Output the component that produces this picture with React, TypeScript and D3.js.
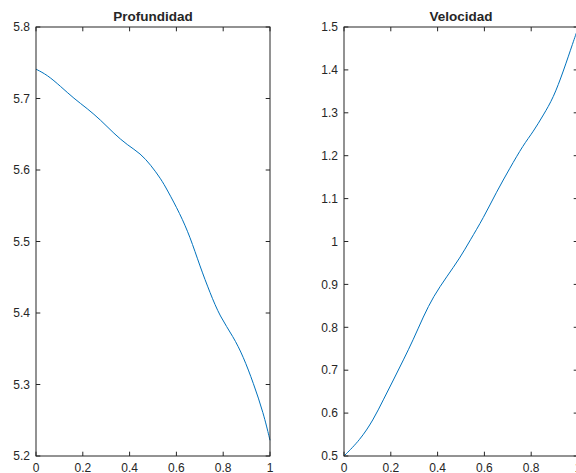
import React, { useEffect, useRef } from "react";
import * as d3 from "d3";

// Depth profile (Profundidad) sampled along the normalised distance
const depthX = [0, 0.048, 0.105, 0.162, 0.219, 0.276, 0.333, 0.39, 0.447, 0.49, 0.533, 0.561, 0.615, 0.658, 0.701, 0.744, 0.786, 0.843, 0.886, 0.929, 0.972, 1];
const depthY = [5.741, 5.733, 5.717, 5.7, 5.686, 5.67, 5.651, 5.635, 5.623, 5.607, 5.588, 5.572, 5.539, 5.507, 5.465, 5.428, 5.395, 5.367, 5.339, 5.302, 5.26, 5.222];

// Velocity profile (Velocidad)
const velX = [0, 0.068, 0.125, 0.168, 0.211, 0.254, 0.296, 0.339, 0.382, 0.439, 0.496, 0.538, 0.595, 0.652, 0.709, 0.766, 0.809, 0.852, 0.894, 0.937, 0.98, 1];
const velY = [0.5, 0.537, 0.584, 0.631, 0.677, 0.724, 0.771, 0.825, 0.872, 0.918, 0.962, 1.002, 1.054, 1.116, 1.171, 1.225, 1.256, 1.295, 1.334, 1.396, 1.466, 1.497];

const xTicks = [0, 0.2, 0.4, 0.6, 0.8, 1];
const depthTicks = [5.2, 5.3, 5.4, 5.5, 5.6, 5.7, 5.8];
const velTicks = [0.5, 0.6, 0.7, 0.8, 0.9, 1, 1.1, 1.2, 1.3, 1.4, 1.5];

const W = 576;
const H = 473;
const AX = "#262626";
const LINE = "#0072BD";
const FONT = "'Liberation Sans', Arial, Helvetica, sans-serif";

type Panel = {
  title: string;
  xs: number[];
  ys: number[];
  yDomain: [number, number];
  yTicks: number[];
  left: number;
};

const panels: Panel[] = [
  { title: "Profundidad", xs: depthX, ys: depthY, yDomain: [5.2, 5.8], yTicks: depthTicks, left: 36 },
  { title: "Velocidad", xs: velX, ys: velY, yDomain: [0.5, 1.5], yTicks: velTicks, left: 344 },
];

const plotW = 234;
const top = 27;
const bottom = 456;
const tickLen = 4.3;

export default function App() {
  const ref = useRef<SVGSVGElement | null>(null);

  useEffect(() => {
    document.body.style.margin = "0";
    const svg = d3.select(ref.current);
    svg.selectAll("*").remove();
    svg.append("rect").attr("width", W).attr("height", H).attr("fill", "#fff");

    panels.forEach((p) => {
      const x = d3.scaleLinear().domain([0, 1]).range([p.left, p.left + plotW]);
      const y = d3.scaleLinear().domain(p.yDomain).range([bottom, top]);
      const g = svg.append("g");

      // data curve (B-spline keeps the profile smooth)
      const line = d3
        .line<number>()
        .x((_, i) => x(p.xs[i]))
        .y((d) => y(d))
        .curve(d3.curveBasis);
      g.append("path")
        .attr("d", line(p.ys))
        .attr("fill", "none")
        .attr("stroke", LINE)
        .attr("stroke-width", 1);

      // box
      g.append("rect")
        .attr("x", x(0))
        .attr("y", top)
        .attr("width", plotW)
        .attr("height", bottom - top)
        .attr("fill", "none")
        .attr("stroke", AX)
        .attr("stroke-width", 1);

      // x ticks (bottom and top, inward)
      xTicks.forEach((t) => {
        const px = x(t);
        g.append("line").attr("x1", px).attr("x2", px).attr("y1", bottom).attr("y2", bottom - tickLen).attr("stroke", AX);
        g.append("line").attr("x1", px).attr("x2", px).attr("y1", top).attr("y2", top + tickLen).attr("stroke", AX);
        g.append("text")
          .attr("x", px)
          .attr("y", bottom + 16)
          .attr("text-anchor", "middle")
          .attr("font-family", FONT)
          .attr("font-size", 12)
          .attr("fill", AX)
          .text(d3.format("~g")(t));
      });

      // y ticks (left and right, inward)
      p.yTicks.forEach((t) => {
        const py = y(t);
        g.append("line").attr("x1", x(0)).attr("x2", x(0) + tickLen).attr("y1", py).attr("y2", py).attr("stroke", AX);
        g.append("line").attr("x1", x(1)).attr("x2", x(1) - tickLen).attr("y1", py).attr("y2", py).attr("stroke", AX);
        g.append("text")
          .attr("x", x(0) - 6)
          .attr("y", py)
          .attr("dy", "0.35em")
          .attr("text-anchor", "end")
          .attr("font-family", FONT)
          .attr("font-size", 12)
          .attr("fill", AX)
          .text(d3.format("~g")(t));
      });

      // title
      g.append("text")
        .attr("x", x(0.5))
        .attr("y", 21)
        .attr("text-anchor", "middle")
        .attr("font-family", FONT)
        .attr("font-size", 13.5)
        .attr("font-weight", "bold")
        .attr("fill", AX)
        .text(p.title);
    });
  }, []);

  return <svg ref={ref} width={W} height={H} style={{ display: "block" }} />;
}
